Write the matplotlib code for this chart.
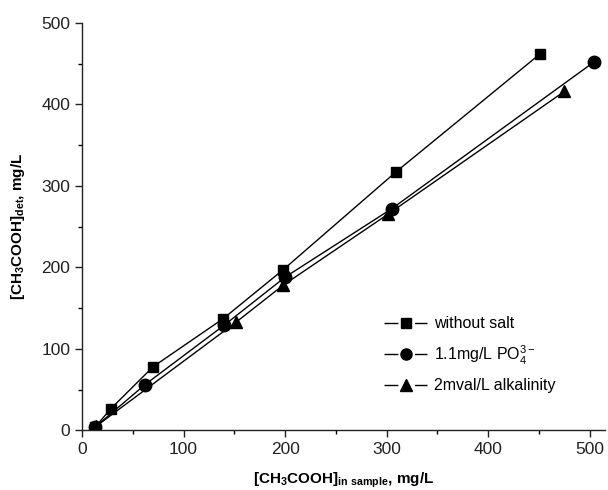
import matplotlib
matplotlib.use('Agg')
import matplotlib.pyplot as plt
from matplotlib.lines import Line2D
from matplotlib.ticker import MultipleLocator

plt.rcParams['font.family'] = ['Liberation Sans', 'DejaVu Sans']
plt.rcParams['mathtext.default'] = 'regular'

# data
x_nosalt = [13, 28, 70, 139, 198, 309, 451]
y_nosalt = [4, 26, 78, 137, 197, 317, 462]
x_po4 = [13, 62, 140, 200, 305, 504]
y_po4 = [4, 56, 129, 188, 272, 452]
x_alk = [14, 152, 198, 301, 475]
y_alk = [5, 133, 178, 265, 416]

labels = ['without salt', r'1.1mg/L PO$_4^{3-}$', '2mval/L alkalinity']
markers = ['s', 'o', '^']

fig = plt.figure(figsize=(6.08, 4.90), dpi=100)
ax = fig.add_axes([0.135, 0.122, 0.86, 0.831])

ax.plot(x_nosalt, y_nosalt, '-s', color='black', lw=1.0, ms=7)
ax.plot(x_po4, y_po4, '-o', color='black', lw=1.0, ms=9)
ax.plot(x_alk, y_alk, '-^', color='black', lw=1.0, ms=9)

ax.set_xlim(0, 515)
ax.set_ylim(0, 500)
ax.xaxis.set_major_locator(MultipleLocator(100))
ax.xaxis.set_minor_locator(MultipleLocator(50))
ax.yaxis.set_major_locator(MultipleLocator(100))
ax.yaxis.set_minor_locator(MultipleLocator(50))
ax.tick_params(which='major', direction='out', length=5, width=1, labelsize=12.5, colors='#222222')
ax.tick_params(which='minor', direction='out', length=3, width=1)
for s in ['top', 'right']:
    ax.spines[s].set_visible(False)
for s in ['left', 'bottom']:
    ax.spines[s].set_linewidth(1)
    ax.spines[s].set_color('#222222')

ax.set_xlabel(r'[CH$_3$COOH]$_{in\ sample}$, mg/L', fontsize=11, fontweight='bold', labelpad=10)
ax.set_ylabel(r'[CH$_3$COOH]$_{det}$, mg/L', fontsize=11, fontweight='bold', labelpad=10)

# legend handles with a gap between line and marker
handles = [Line2D([0], [0], color='black', lw=1.0, marker=m, ms=ms,
                  dashes=(10, 12, 10, 100))
           for m, ms in zip(markers, [6.5, 8, 8.5])]
ax.legend(handles, labels, loc='upper left', bbox_to_anchor=(0.55, 0.315), frameon=False,
          fontsize=11.5, handlelength=2.7, labelspacing=0.75, handletextpad=0.4)

fig.savefig('out.png', dpi=100)
